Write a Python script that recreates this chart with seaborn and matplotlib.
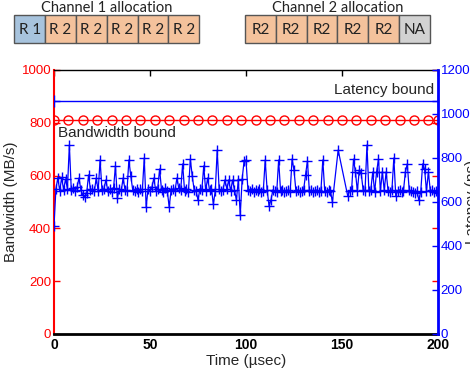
import numpy as np
import pandas as pd
import seaborn as sns
import matplotlib.pyplot as plt
from matplotlib.patches import Rectangle

# latency samples (ns) over time (usec)
tiempo = list(range(0, 146)) + [148] + list(range(153, 201))
latencia = [
    492, 660, 710, 650, 712, 655, 705, 660, 859, 655,
    662, 650, 668, 709, 655, 632, 623, 640, 723, 655,
    660, 648, 709, 650, 791, 655, 660, 700, 652, 658,
    645, 662, 764, 618, 660, 650, 709, 655, 648, 791,
    718, 655, 650, 660, 645, 658, 652, 800, 577, 660,
    650, 668, 709, 650, 660, 750, 655, 645, 662, 650,
    577, 655, 660, 650, 709, 662, 655, 773, 650, 660,
    645, 795, 718, 655, 650, 609, 660, 655, 764, 650,
    709, 655, 660, 591, 650, 836, 660, 648, 655, 700,
    660, 700, 650, 700, 655, 609, 700, 540, 705, 786,
    791, 655, 650, 660, 645, 655, 650, 658, 645, 650,
    791, 655, 582, 609, 655, 650, 645, 791, 650, 655,
    645, 650, 655, 645, 795, 745, 650, 655, 645, 650,
    655, 723, 786, 650, 655, 645, 650, 655, 645, 650,
    791, 650, 645, 655, 650, 600,
    836,
    627, 650, 655, 795, 736, 650, 745, 730, 655, 650,
    859, 650, 655, 736, 645, 736, 795, 650, 736, 655,
    736, 650, 645, 655, 800, 627, 650, 655, 645, 650,
    736, 773, 655, 650, 645, 640, 650, 609, 645, 773,
    750, 650, 736, 650, 655, 645, 650, 640,
]

bw_tiempo = list(np.arange(0, 200, 7.5)) + [200]
bw_bound = 810
lat_bound = 1060

x_ticks = [0, 50, 100, 150, 200]
canal1 = ["R 1", "R 2", "R 2", "R 2", "R 2", "R 2"]
canal2 = ["R2", "R2", "R2", "R2", "R2", "NA"]
colores = {"R 1": "#a7c3dd", "R 2": "#f4c29c", "R2": "#f4c29c", "NA": "#d2d2d2"}

sns.set_style("white")
plt.rcParams['font.family'] = ['Liberation Sans', 'DejaVu Sans']

fig = plt.figure(figsize=(4.7, 3.7), dpi=100)

# cajas de asignacion arriba
top = fig.add_axes([0, 1 - 50 / 370, 1, 50 / 370])
top.set_xlim(0, 470)
top.set_ylim(50, 0)
top.axis('off')
for x0, etiquetas, titulo in [(14.3, canal1, "Channel 1 allocation"), (245, canal2, "Channel 2 allocation")]:
    w = 30.8
    for i, e in enumerate(etiquetas):
        top.add_patch(Rectangle((x0 + i * w, 15.3), w, 28, facecolor=colores[e], edgecolor="#555555", lw=1))
        top.text(x0 + i * w + w / 2, 29.5, e, ha='center', va='center', fontsize=11, family=['Lato', 'DejaVu Sans'], color="#222222")
    top.text(x0 + 3 * w, 7.5, titulo, ha='center', va='center', fontsize=10.5, family=['Lato', 'DejaVu Sans'], color="#222222")

ax = fig.add_axes([54 / 470, 36 / 370, 384 / 470, 264 / 370])
ax2 = ax.twinx()

df_bw = pd.DataFrame({"t": bw_tiempo, "bw": [bw_bound] * len(bw_tiempo)})
sns.lineplot(data=df_bw, x="t", y="bw", ax=ax, color="red", lw=1, marker="o", markersize=6.5,
             markerfacecolor="none", markeredgecolor="red", markeredgewidth=1)

df_lat = pd.DataFrame({"t": tiempo, "lat": latencia})
sns.lineplot(data=df_lat, x="t", y="lat", ax=ax2, color="blue", lw=0.9, marker="+", markersize=7,
             markeredgecolor="blue", markeredgewidth=1)
sns.lineplot(x=[0, 200], y=[lat_bound, lat_bound], ax=ax2, color="blue", lw=1, marker="+", markersize=8,
             markeredgecolor="blue", markeredgewidth=1)

ax.text(2, 762, "Bandwidth bound", fontsize=11, va='center', ha='left')
ax2.text(198, 1110, "Latency bound", fontsize=11, va='center', ha='right')

ax.set_xlim(0, 200)
ax.set_ylim(0, 1000)
ax2.set_ylim(0, 1200)
ax.set_xticks(x_ticks, labels=[str(v) for v in x_ticks], fontweight='bold')
ax.set_yticks(range(0, 1001, 200))
ax2.set_yticks(range(0, 1201, 200))

ax.tick_params(axis='x', direction='in', top=True, length=4, width=1, labelsize=10, pad=3, colors='black')
ax.tick_params(axis='y', direction='in', right=True, length=4, width=1, labelsize=9.5, pad=2, colors='red')
ax2.tick_params(axis='y', direction='in', length=4, width=1, labelsize=9.5, pad=2, colors='blue')

ax.spines['left'].set_color('red')
ax.spines['left'].set_linewidth(1.5)
ax.spines['bottom'].set_linewidth(2)
ax.spines['bottom'].set_color('black')
ax.spines['top'].set_color('black')
ax.spines['top'].set_linewidth(1)
for s in ['left', 'top', 'bottom']:
    ax2.spines[s].set_visible(False)
ax2.spines['right'].set_color('blue')
ax2.spines['right'].set_linewidth(2)

ax.set_xlabel("Time (\u00b5sec)", fontsize=11, labelpad=1)
ax.set_ylabel("Bandwidth (MB/s)", fontsize=11)
ax.yaxis.set_label_coords(-0.093, 0.5)
ax2.set_ylabel("Latency (ns)", fontsize=11)
ax2.yaxis.set_label_coords(1.07, 0.5)

plt.savefig("out.png", dpi=100)
